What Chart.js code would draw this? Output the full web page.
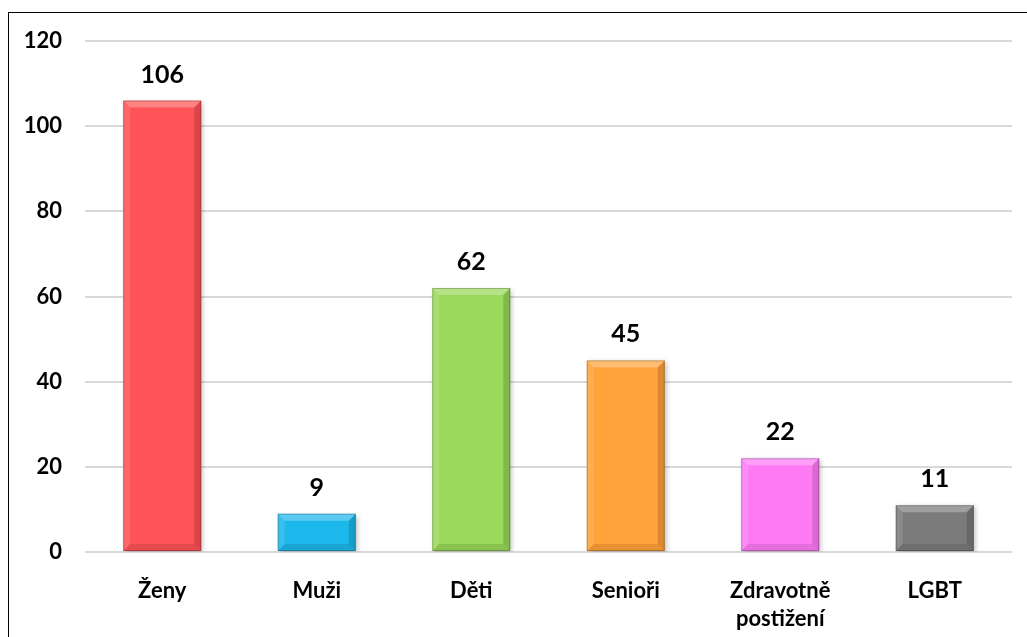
<!DOCTYPE html>
<html>
<head>
<meta charset="utf-8">
<script src="https://cdn.jsdelivr.net/npm/chart.js@4"></script>
<style>
  html, body { margin: 0; padding: 0; background: #fff; overflow: hidden; }
  #wrap { position: relative; width: 1027px; height: 637px; }
  #frame { position: absolute; left: 8px; top: 12px; width: 1100px; height: 700px; border: 1.5px solid #000; box-sizing: border-box; }
  canvas { position: absolute; left: 0; top: 0; }
</style>
</head>
<body>
<div id="wrap">
  <div id="frame"></div>
  <canvas id="c" width="1027" height="637"></canvas>
</div>
<script>
// Categories, values and bar colours
const categories = ['Ženy', 'Muži', 'Děti', 'Senioři', ['Zdravotně', 'postižení'], 'LGBT'];
const counts = [106, 9, 62, 45, 22, 11];
const barColors = ['#FF5357', '#1CB8EC', '#9AD95A', '#FFA23A', '#FF7BF6', '#7B7B7B'];
const yTicks = [0, 20, 40, 60, 80, 100, 120];

const FONT = 'Lato, "Open Sans", sans-serif';

// soft drop shadow under the bars
const shadowPlugin = {
  id: 'shadow',
  beforeDatasetsDraw(chart) {
    const ctx = chart.ctx;
    ctx.save();
    ctx.shadowColor = 'rgba(0,0,0,0.25)';
    ctx.shadowBlur = 5;
    ctx.shadowOffsetX = 2;
    ctx.shadowOffsetY = 2;
  },
  afterDatasetsDraw(chart) {
    chart.ctx.restore();
  }
};

// bevel edges + value labels on top of each bar
const bevelPlugin = {
  id: 'bevel',
  afterDatasetsDraw(chart) {
    const ctx = chart.ctx;
    const meta = chart.getDatasetMeta(0);
    meta.data.forEach((bar, i) => {
      const l = bar.x - bar.width / 2, r = bar.x + bar.width / 2;
      const t = bar.y, b = bar.base;
      const bv = Math.min(7, (b - t) / 2);
      const poly = (pts, fill) => {
        ctx.beginPath();
        ctx.moveTo(pts[0][0], pts[0][1]);
        pts.slice(1).forEach(p => ctx.lineTo(p[0], p[1]));
        ctx.closePath();
        ctx.fillStyle = fill;
        ctx.fill();
      };
      poly([[l, t], [r, t], [r - bv, t + bv], [l + bv, t + bv]], 'rgba(255,255,255,0.28)');
      poly([[l, t], [l + bv, t + bv], [l + bv, b - bv], [l, b]], 'rgba(255,255,255,0.12)');
      poly([[r, t], [r, b], [r - bv, b - bv], [r - bv, t + bv]], 'rgba(0,0,0,0.15)');
      poly([[l, b], [l + bv, b - bv], [r - bv, b - bv], [r, b]], 'rgba(0,0,0,0.10)');
      ctx.strokeStyle = 'rgba(0,0,0,0.22)';
      ctx.lineWidth = 1;
      ctx.strokeRect(l + 0.5, t + 0.5, bar.width - 1, b - t - 1);

      ctx.fillStyle = '#000';
      ctx.font = 'bold 25px ' + FONT;
      ctx.textAlign = 'center';
      ctx.textBaseline = 'alphabetic';
      ctx.fillText(String(counts[i]), bar.x, t - 18);
    });
  }
};

new Chart(document.getElementById('c'), {
  type: 'bar',
  data: {
    labels: categories,
    datasets: [{
      data: counts,
      backgroundColor: barColors,
      borderWidth: 0,
      barPercentage: 0.505,
      categoryPercentage: 1
    }]
  },
  options: {
    responsive: false,
    animation: false,
    layout: { padding: { top: 41, right: 15, bottom: 0, left: 0 } },
    plugins: { legend: { display: false }, tooltip: { enabled: false } },
    scales: {
      x: {
        grid: { display: false },
        border: { display: false },
        ticks: {
          color: '#000',
          font: { family: FONT, size: 22, weight: 'bold', lineHeight: 1.28 },
          padding: 17,
          maxRotation: 0
        },
        afterFit(s) { s.height = 85; }
      },
      y: {
        min: 0,
        max: 120,
        afterBuildTicks(s) { s.ticks = yTicks.map(v => ({ value: v })); },
        grid: { color: '#D9D9D9', lineWidth: 2, drawTicks: false },
        border: { display: false },
        ticks: {
          color: '#000',
          font: { family: FONT, size: 22, weight: 'bold' },
          padding: 23
        },
        afterFit(s) { s.width = 85; }
      }
    }
  },
  plugins: [shadowPlugin, bevelPlugin]
});
</script>
</body>
</html>
